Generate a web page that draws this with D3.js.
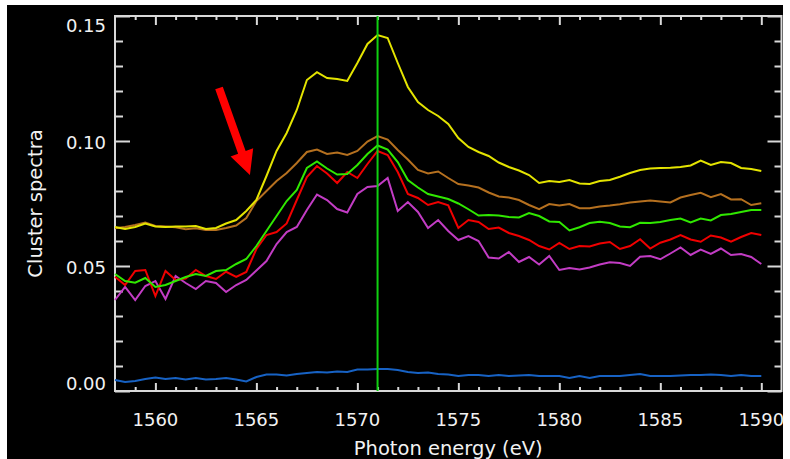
<!DOCTYPE html>
<html><head><meta charset="utf-8">
<script src="https://cdn.jsdelivr.net/npm/d3@7"></script>
<style>html,body{margin:0;padding:0;background:#fff;overflow:hidden}</style>
</head><body>
<svg id="c" width="790" height="459"></svg>
<script>
// ---- data ----
const energy = [1558,1558.5,1559,1559.5,1560,1560.5,1561,1561.5,1562,1562.5,1563,1563.5,1564,1564.5,
  1565,1565.5,1566,1566.5,1567,1567.5,1568,1568.5,1569,1569.5,1570,1570.5,1571,1571.5,
  1572,1572.5,1573,1573.5,1574,1574.5,1575,1575.5,1576,1576.5,1577,1577.5,1578,1578.5,
  1579,1579.5,1580,1580.5,1581,1581.5,1582,1582.5,1583,1583.5,1584,1584.5,1585,1585.5,
  1586,1586.5,1587,1587.5,1588,1588.5,1589,1589.5,1590];

const yellowSeries = [.0656,.0648,.0656,.0670,.0658,.0656,.0658,.0658,.0660,.0648,.0652,.0670,.0684,.0720,
  .0764,.0860,.0960,.1032,.1124,.1244,.1275,.1252,.1248,.1240,.1312,.1388,.1424,.1412,
  .1312,.1216,.1156,.1124,.1100,.1068,.1012,.0976,.0956,.0940,.0914,.0896,.0882,.0864,
  .0832,.0840,.0836,.0844,.0830,.0828,.0840,.0844,.0857,.0872,.0884,.0890,.0892,.0893,
  .0896,.0902,.0922,.0904,.0916,.0912,.0892,.0888,.0880];

const brownSeries = [.0651,.0656,.0664,.0674,.0660,.0658,.0655,.0647,.0651,.0644,.0644,.0652,.0662,.0692,
  .0760,.0800,.0840,.0872,.0912,.0956,.0966,.0948,.0954,.0944,.0960,.0998,.1020,.1006,
  .0964,.0926,.0884,.0870,.0878,.0852,.0828,.0822,.0814,.0794,.0778,.0774,.0764,.0744,
  .0727,.0748,.0742,.0748,.0731,.0731,.0738,.0742,.0747,.0754,.0758,.0762,.0758,.0754,
  .0774,.0784,.0793,.0775,.0788,.0766,.0767,.0744,.0751];

const greenSeries = [.0468,.0440,.0433,.0452,.0416,.0424,.0440,.0456,.0468,.0460,.0480,.0484,.0508,.0528,
  .0580,.0640,.0700,.0760,.0804,.0892,.0918,.0890,.0866,.0868,.0904,.0948,.0982,.0966,
  .0916,.0844,.0814,.0788,.0778,.0768,.0750,.0727,.0702,.0704,.0702,.0696,.0694,.0712,
  .0700,.0678,.0676,.0642,.0655,.0672,.0677,.0672,.0658,.0655,.0673,.0672,.0676,.0684,
  .0690,.0674,.0690,.0682,.0704,.0708,.0716,.0724,.0724];

const redSeries = [.0457,.0424,.0480,.0484,.0380,.0480,.0444,.0450,.0484,.0460,.0448,.0477,.0456,.0476,
  .0568,.0624,.0636,.0670,.0764,.0856,.0900,.0870,.0832,.0876,.0852,.0908,.0960,.0944,
  .0876,.0788,.0772,.0744,.0756,.0743,.0652,.0684,.0676,.0648,.0654,.0632,.0620,.0604,
  .0580,.0566,.0592,.0568,.0580,.0578,.0590,.0596,.0568,.0580,.0607,.0570,.0593,.0606,
  .0624,.0606,.0597,.0622,.0614,.0597,.0616,.0632,.0624];

const magentaSeries = [.0364,.0416,.0364,.0420,.0440,.0368,.0460,.0432,.0408,.0440,.0432,.0396,.0424,.0444,
  .0482,.0520,.0588,.0636,.0656,.0724,.0786,.0764,.0728,.0714,.0788,.0816,.0820,.0852,
  .0720,.0756,.0716,.0652,.0684,.0640,.0604,.0620,.0600,.0534,.0530,.0556,.0516,.0536,
  .0506,.0540,.0484,.0492,.0486,.0494,.0506,.0515,.0512,.0500,.0537,.0540,.0527,.0550,
  .0574,.0544,.0566,.0548,.0570,.0544,.0548,.0536,.0508];

const blueSeries = [.0044,.0036,.0040,.0048,.0054,.0048,.0052,.0046,.0052,.0046,.0048,.0052,.0046,.0038,
  .0056,.0066,.0066,.0062,.0068,.0072,.0076,.0074,.0078,.0076,.0086,.0086,.0088,.0088,
  .0084,.0076,.0072,.0074,.0068,.0066,.0060,.0064,.0064,.0060,.0064,.0060,.0062,.0064,
  .0060,.0060,.0060,.0052,.0060,.0052,.0060,.0060,.0060,.0064,.0068,.0060,.0060,.0060,
  .0062,.0064,.0064,.0066,.0064,.0060,.0064,.0060,.0060];

const xMajorTicks = [1560,1565,1570,1575,1580,1585,1590];
const xTickLabels = ["1560","1565","1570","1575","1580","1585","1590"];
const yMajorTicks = [0.00,0.05,0.10,0.15];
const yTickLabels = ["0.00","0.05","0.10","0.15"];
const xTitle = "Photon energy (eV)";
const yTitle = "Cluster spectra";
const markerEnergy = 1571;
const arrowFrom = [1563.15, 0.1212];
const arrowTo = [1564.68, 0.0864];

// ---- layout ----
const L = 115, R = 781.5, T = 16, B = 391;
const svg = d3.select("#c");
svg.append("rect").attr("x", 7).attr("y", 5).attr("width", 776).attr("height", 454).attr("fill", "#000");

const x = d3.scaleLinear().domain([1558, 1591]).range([L, R]);
const y = d3.scaleLinear().domain([0, 0.15]).range([B, T]);

const axisColor = "#d9d9d9";
function styleAxis(g) {
  g.select(".domain").remove();
  g.selectAll(".tick line").attr("stroke", axisColor).attr("stroke-width", 2);
  g.selectAll(".tick text").remove();
}
const xMinor = d3.range(1559, 1591, 1).filter(v => !xMajorTicks.includes(v));
const yMinor = d3.range(1, 15).map(i => i / 100).filter(v => Math.abs(v - 0.05) > 1e-9 && Math.abs(v - 0.10) > 1e-9);

svg.append("g").attr("transform", `translate(0,${B})`).call(d3.axisBottom(x).tickValues(xMinor).tickSize(-4)).call(styleAxis);
svg.append("g").attr("transform", `translate(0,${B})`).call(d3.axisBottom(x).tickValues(xMajorTicks).tickSize(-8)).call(styleAxis);
svg.append("g").attr("transform", `translate(0,${T})`).call(d3.axisTop(x).tickValues(xMinor).tickSize(-4)).call(styleAxis);
svg.append("g").attr("transform", `translate(0,${T})`).call(d3.axisTop(x).tickValues(xMajorTicks).tickSize(-9)).call(styleAxis);
svg.append("g").attr("transform", `translate(${L},0)`).call(d3.axisLeft(y).tickValues(yMinor).tickSize(-8)).call(styleAxis);
svg.append("g").attr("transform", `translate(${L},0)`).call(d3.axisLeft(y).tickValues(yMajorTicks).tickSize(-15)).call(styleAxis);
svg.append("g").attr("transform", `translate(${R},0)`).call(d3.axisRight(y).tickValues(yMinor).tickSize(-7)).call(styleAxis);
svg.append("g").attr("transform", `translate(${R},0)`).call(d3.axisRight(y).tickValues(yMajorTicks).tickSize(-14)).call(styleAxis);

svg.append("rect").attr("x", L).attr("y", T).attr("width", R - L).attr("height", B - T)
  .attr("fill", "none").attr("stroke", axisColor).attr("stroke-width", 2);

// tick labels
const font = "'DejaVu Sans', sans-serif";
svg.append("g").selectAll("text").data(xMajorTicks).join("text")
  .attr("x", d => x(d)).attr("y", 425.5).attr("text-anchor", "middle")
  .attr("font-family", font).attr("font-size", 18).attr("fill", "#f2f2f2")
  .text((d, i) => xTickLabels[i]);
svg.append("g").selectAll("text").data(yMajorTicks).join("text")
  .attr("x", 106).attr("y", d => Math.min(Math.max(y(d) + 8, 32), 390)).attr("text-anchor", "end")
  .attr("font-family", font).attr("font-size", 18).attr("fill", "#f2f2f2")
  .text((d, i) => yTickLabels[i]);

// titles
svg.append("text").attr("x", (L + R) / 2).attr("y", 455).attr("text-anchor", "middle")
  .attr("font-family", font).attr("font-size", 19.5).attr("fill", "#f2f2f2").text(xTitle);
svg.append("text").attr("transform", `translate(41.5,${(T + B) / 2}) rotate(-90)`).attr("text-anchor", "middle")
  .attr("font-family", font).attr("font-size", 19.5).attr("fill", "#f2f2f2").text(yTitle);

// series
const series = [
  {v: blueSeries, c: "#1762c4"},
  {v: magentaSeries, c: "#c23cc4"},
  {v: redSeries, c: "#f00000"},
  {v: greenSeries, c: "#30e800"},
  {v: brownSeries, c: "#b5701f"},
  {v: yellowSeries, c: "#e4e400"}
];
const line = d3.line().x((d, i) => x(energy[i])).y(d => y(d));
svg.append("g").selectAll("path").data(series).join("path")
  .attr("d", d => line(d.v)).attr("fill", "none").attr("stroke", d => d.c)
  .attr("stroke-width", 2).attr("stroke-linejoin", "miter");

// vertical marker
svg.append("line").attr("x1", x(markerEnergy)).attr("x2", x(markerEnergy))
  .attr("y1", y(0.15)).attr("y2", y(0)).attr("stroke", "#10d010").attr("stroke-width", 2);

// arrow annotation
(function () {
  const p0 = [x(arrowFrom[0]), y(arrowFrom[1])], p1 = [x(arrowTo[0]), y(arrowTo[1])];
  const dx = p1[0] - p0[0], dy = p1[1] - p0[1], len = Math.hypot(dx, dy);
  const d = [dx / len, dy / len], n = [-d[1], d[0]];
  const headLen = 24, hw = 12, sw = 4;
  const base = [p1[0] - d[0] * headLen, p1[1] - d[1] * headLen];
  const pts = [
    [p0[0] + n[0] * sw, p0[1] + n[1] * sw],
    [base[0] + n[0] * sw, base[1] + n[1] * sw],
    [base[0] + n[0] * hw, base[1] + n[1] * hw],
    p1,
    [base[0] - n[0] * hw, base[1] - n[1] * hw],
    [base[0] - n[0] * sw, base[1] - n[1] * sw],
    [p0[0] - n[0] * sw, p0[1] - n[1] * sw]
  ];
  svg.append("polygon").attr("points", pts.map(p => p.join(",")).join(" ")).attr("fill", "#ff0000");
})();
</script>
</body></html>
